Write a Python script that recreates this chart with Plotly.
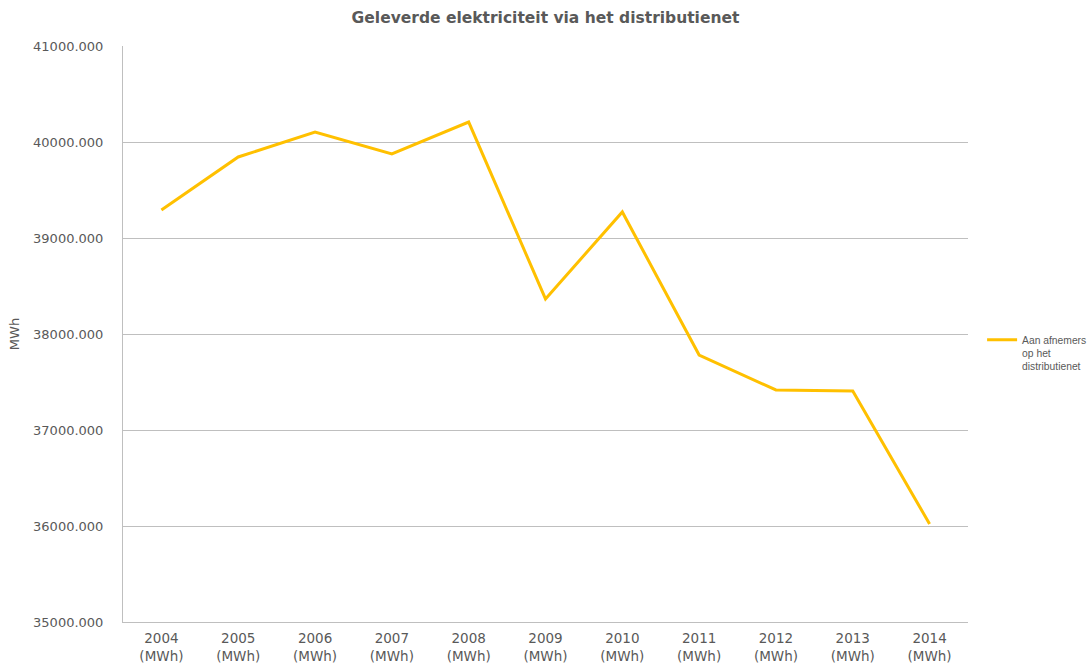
import plotly.graph_objects as go

years = ["2004", "2005", "2006", "2007", "2008", "2009", "2010", "2011", "2012", "2013", "2014"]
categories = [f"{y}<br>(MWh)" for y in years]
values = [39292, 39844, 40104, 39875, 40208, 38365, 39271, 37781, 37417, 37406, 36021]
series_name = "Aan afnemers<br>op het<br>distributienet"
y_ticks = [35000, 36000, 37000, 38000, 39000, 40000, 41000]

fig = go.Figure()
fig.add_trace(go.Scatter(
    x=list(range(len(categories))), y=values, mode="lines", name=series_name,
    line=dict(color="#FFC000", width=3),
))

fam = "Tahoma, 'DejaVu Sans', sans-serif"
fig.update_layout(
    width=1090, height=669,
    margin=dict(l=123, r=122, t=46, b=47, autoexpand=False),
    paper_bgcolor="white", plot_bgcolor="white",
    font=dict(family=fam, color="#595959", size=13),
    title=dict(text="<b>Geleverde elektriciteit via het distributienet</b>",
               x=0.5, xanchor="center", xref="paper", y=0.973, yanchor="middle",
               font=dict(size=15.5, color="#595959", family=fam)),
    showlegend=True,
    legend=dict(x=0.901, xanchor="left", xref="container",
                y=0.512, yanchor="top", yref="container",
                font=dict(size=10.3, color="#595959", family="'Liberation Sans', Arial, sans-serif"),
                valign="top", bgcolor="rgba(0,0,0,0)", itemwidth=30),
)
fig.update_xaxes(
    tickmode="array", tickvals=list(range(len(categories))), ticktext=categories,
    range=[-0.5, len(categories) - 0.5], automargin=False,
    showline=True, linecolor="#bfbfbf", linewidth=1, showgrid=False,
    ticks="", ticklabelstandoff=4,
    tickfont=dict(size=13.5, color="#595959"), zeroline=False,
)
fig.update_yaxes(
    range=[35000, 41000], tickvals=y_ticks, automargin=False,
    ticktext=[f"{v}.000" for v in y_ticks],
    showline=True, linecolor="#bfbfbf", linewidth=1,
    showgrid=True, gridcolor="#bfbfbf", gridwidth=1, zeroline=False,
    ticks="", ticklabelstandoff=16,
    title=dict(text="MWh", font=dict(size=13, color="#595959"), standoff=10),
    tickfont=dict(size=13, color="#595959"),
)
fig.write_html("out.html", config={"displayModeBar": False},
               post_script="document.body.style.margin='0';document.body.style.overflow='hidden';")
